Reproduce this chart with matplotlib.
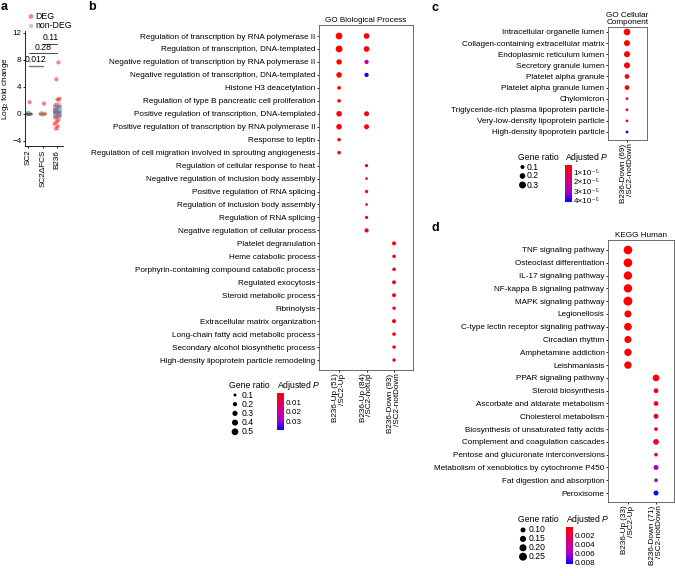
import numpy as np
import matplotlib
matplotlib.use('Agg')
import matplotlib.pyplot as plt
from matplotlib.colors import LinearSegmentedColormap, Normalize
from matplotlib.cm import ScalarMappable

plt.rcParams['font.family'] = ['Liberation Sans', 'DejaVu Sans']
plt.rcParams['font.size'] = 5.9
plt.rcParams['mathtext.fontset'] = 'custom'
plt.rcParams['mathtext.rm'] = 'Liberation Sans'
plt.rcParams['mathtext.it'] = 'Liberation Sans:italic'
plt.rcParams['axes.linewidth'] = 0.6
plt.rcParams['xtick.major.width'] = 0.6
plt.rcParams['ytick.major.width'] = 0.6
plt.rcParams['xtick.major.size'] = 1.6
plt.rcParams['ytick.major.size'] = 1.6
plt.rcParams['xtick.major.pad'] = 1
plt.rcParams['ytick.major.pad'] = 1

# ---------------- data ----------------
# panel a: log2 fold change per virus
groups_a = ['SC2', 'SC2ΔFCS', 'B236']
deg_a = [
    [1.7],
    [1.5, -0.1],
    [7.6, 5.1, 2.2, 2.1, 1.3, 1.1, 0.8, 0.5, 0.3, 0.1, -0.2, -0.4, -0.6, -0.9, -1.2, -1.5, -1.9, -2.2],
]
nondeg_a = [
    [0.1, -0.1, 0.05, -0.05, 0.0, 0.15, -0.15, 0.0],
    [0.05, -0.05, 0.1, -0.1, 0.0, 0.0],
    [1.5, 0.8, 0.2, -0.3],
]
pval_labels_a = ['0.012', '0.28', '0.11']
pval_pairs_a = [(0, 1), (0, 2), (1, 2)]

# panel b: GO biological process
terms_b = [
    'Regulation of transcription by RNA polymerase II',
    'Regulation of transcription, DNA-templated',
    'Negative regulation of transcription by RNA polymerase II',
    'Negative regulation of transcription, DNA-templated',
    'Histone H3 deacetylation',
    'Regulation of type B pancreatic cell proliferation',
    'Positive regulation of transcription, DNA-templated',
    'Positive regulation of transcription by RNA polymerase II',
    'Response to leptin',
    'Regulation of cell migration involved in sprouting angiogenesis',
    'Regulation of cellular response to heat',
    'Negative regulation of inclusion body assembly',
    'Positive regulation of RNA splicing',
    'Regulation of inclusion body assembly',
    'Regulation of RNA splicing',
    'Negative regulation of cellular process',
    'Platelet degranulation',
    'Heme catabolic process',
    'Porphyrin-containing compound catabolic process',
    'Regulated exocytosis',
    'Steroid metabolic process',
    'Fibrinolysis',
    'Extracellular matrix organization',
    'Long-chain fatty acid metabolic process',
    'Secondary alcohol biosynthetic process',
    'High-density lipoprotein particle remodeling',
]
sets_b = ['B236-Up (51)\n/SC2-Up', 'B236-Up (84)\n/SC2-notUp', 'B236-Down (93)\n/SC2-notDown']
set_idx_b = [0] * 10 + [1] * 12 + [2] * 10
term_idx_b = list(range(10)) + [0, 1, 2, 3, 6, 7, 10, 11, 12, 13, 14, 15] + list(range(16, 26))
ratio_b = [0.50, 0.50, 0.32, 0.34, 0.15, 0.14, 0.34, 0.34, 0.14, 0.14,
           0.36, 0.36, 0.20, 0.20, 0.28, 0.28, 0.12, 0.08, 0.12, 0.08, 0.12, 0.20,
           0.18, 0.14, 0.14, 0.17, 0.17, 0.13, 0.18, 0.14, 0.13, 0.13]
padj_b = [0.0006, 0.0006, 0.0008, 0.0008, 0.001, 0.001, 0.001, 0.001, 0.0012, 0.0012,
          0.001, 0.001, 0.019, 0.038, 0.002, 0.002, 0.005, 0.005, 0.006, 0.006, 0.007, 0.011,
          0.001, 0.0015, 0.0015, 0.0015, 0.0015, 0.002, 0.0015, 0.0015, 0.0015, 0.0018]

# panel c: GO cellular component
terms_c = [
    'Intracellular organelle lumen',
    'Collagen-containing extracellular matrix',
    'Endoplasmic reticulum lumen',
    'Secretory granule lumen',
    'Platelet alpha granule',
    'Platelet alpha granule lumen',
    'Chylomicron',
    'Triglyceride-rich plasma lipoprotein particle',
    'Very-low-density lipoprotein particle',
    'High-density lipoprotein particle',
]
sets_c = ['B236-Down (69)\n/SC2-notDown']
ratio_c = [0.28, 0.23, 0.23, 0.23, 0.14, 0.14, 0.05, 0.05, 0.05, 0.05]
padj_c = [2e-6, 2e-6, 2e-6, 3e-6, 3e-6, 4e-6, 7e-6, 2.0e-5, 1.8e-5, 4.1e-5]

# panel d: KEGG human
terms_d = [
    'TNF signaling pathway',
    'Osteoclast differentiation',
    'IL-17 signaling pathway',
    'NF-kappa B signaling pathway',
    'MAPK signaling pathway',
    'Legionellosis',
    'C-type lectin receptor signaling pathway',
    'Circadian rhythm',
    'Amphetamine addiction',
    'Leishmaniasis',
    'PPAR signaling pathway',
    'Steroid biosynthesis',
    'Ascorbate and aldarate metabolism',
    'Cholesterol metabolism',
    'Biosynthesis of unsaturated fatty acids',
    'Complement and coagulation cascades',
    'Pentose and glucuronate interconversions',
    'Metabolism of xenobiotics by cytochrome P450',
    'Fat digestion and absorption',
    'Peroxisome',
]
sets_d = ['B236-Up (33)\n/SC2-Up', 'B236-Down (71)\n/SC2-notDown']
set_idx_d = [0] * 10 + [1] * 10
ratio_d = [0.30, 0.30, 0.28, 0.28, 0.32, 0.20, 0.24, 0.20, 0.22, 0.22,
           0.18, 0.09, 0.09, 0.10, 0.055, 0.13, 0.055, 0.10, 0.055, 0.10]
padj_d = [0.0001] * 10 + [0.0002, 0.0005, 0.0008, 0.0015, 0.002, 0.001, 0.003, 0.0062, 0.0058, 0.0082]

# ---------------- drawing ----------------
W, H = 675, 576
fig = plt.figure(figsize=(W / 100, H / 100), dpi=100)


def px_axes(x0, y0, x1, y1, **kw):
    return fig.add_axes([x0 / W, 1 - y1 / H, (x1 - x0) / W, (y1 - y0) / H], **kw)


cmap = LinearSegmentedColormap.from_list(
    'padj', ['#FF0000', '#E3004F', '#C70094', '#A000CC', '#0000FF'])


def marker_area(r, k):
    # k: diameter in px for ratio 1 (area proportional to gene ratio)
    return (k * np.sqrt(np.asarray(r)) * 0.72) ** 2


def dotplot(ax, terms, sets, xs, ys, ratio, padj, k, vmin, vmax, xlim, ylim, title):
    ax.scatter(xs, ys, s=marker_area(ratio, k), c=padj, cmap=cmap,
               norm=Normalize(vmin, vmax), edgecolors='none', zorder=3)
    ax.set_yticks(range(len(terms)))
    ax.set_yticklabels(terms)
    ax.set_xticks(range(len(sets)))
    ax.set_xticklabels(sets, rotation=90, multialignment='right', linespacing=0.95)
    ax.set_xlim(*xlim)
    ax.set_ylim(*ylim)
    ax.set_title(title, fontsize=5.9, pad=2.5, linespacing=0.95)
    for s in ax.spines.values():
        s.set_color('#555555')


def colorbar(x0, y0, x1, y1, vmin, vmax, ticks, labels):
    cax = px_axes(x0, y0, x1, y1)
    cb = fig.colorbar(ScalarMappable(norm=Normalize(vmin, vmax), cmap=cmap.reversed()), cax=cax)
    cb.outline.set_visible(False)
    cb.set_ticks([vmin + vmax - t for t in ticks])
    cb.set_ticklabels(labels)
    cax.tick_params(length=0, pad=1, labelsize=5.9)
    return cb


# overlay for legends and panel letters (pixel coordinates)
ov = px_axes(0, 0, W, H, zorder=10)
ov.set_xlim(0, W)
ov.set_ylim(H, 0)
ov.axis('off')
ov.patch.set_alpha(0)

# ---- panel a
axa = px_axes(25, 31.4, 63, 146.1)
for i in range(len(groups_a)):
    vals = deg_a[i] + nondeg_a[i]
    n_deg = len(deg_a[i])
    offs = ((np.arange(len(vals)) * 0.618 + 0.75) % 1 - 0.5) * 0.36
    axa.scatter(i + offs[:n_deg], deg_a[i], s=9, color='#FF0000', alpha=0.5,
                edgecolors='none', zorder=2)
    axa.scatter(i + offs[n_deg:], nondeg_a[i], s=9, color='#999999', alpha=0.5,
                edgecolors='none', zorder=2)
box_colors = ['#555555', '#D2691E', '#4682B4']
bp = axa.boxplot([deg_a[i] + nondeg_a[i] for i in range(3)], positions=range(3),
                 widths=0.5, showfliers=False, patch_artist=True, whis=1.0)
for i, patch in enumerate(bp['boxes']):
    patch.set_facecolor(box_colors[i])
    patch.set_alpha(0.5)
    patch.set_edgecolor(box_colors[i])
    patch.set_linewidth(0.5)
for key in ['whiskers', 'caps']:
    for j, line in enumerate(bp[key]):
        line.set_color(box_colors[j // 2])
        line.set_linewidth(0.5)
        line.set_alpha(0.6)
for i, line in enumerate(bp['medians']):
    line.set_color(box_colors[i])
    line.set_linewidth(1.2)
bracket_y = [7.1, 8.95, 10.4]
for (lab, (g1, g2), yb) in zip(pval_labels_a, pval_pairs_a, bracket_y):
    axa.plot([g1 + 0.05, g2], [yb, yb], color='#777777' if lab == '0.012' else 'black',
             lw=1.0 if lab == '0.012' else 0.5)
    axa.text((g1 + g2) / 2 + 0.02, yb + 0.25, lab, ha='center', va='bottom', fontsize=6.2)
axa.set_xlim(-0.23, 2.41)
axa.set_ylim(-4.8, 12.2)
axa.set_yticks([-4, 0, 4, 8, 12])
axa.set_xticks(range(3))
axa.set_xticklabels(groups_a, rotation=90)
axa.set_ylabel('Log$_2$ fold change')
axa.yaxis.set_label_coords(-0.36, 0.5)
axa.spines['top'].set_visible(False)
axa.spines['right'].set_visible(False)

ov.scatter([31, 31], [16.5, 26], s=(4.7 * 0.72) ** 2, color=['#FF0000', '#999999'],
           alpha=0.5, edgecolors='none')
ov.text(35.5, 16.5, 'DEG', va='center', fontsize=6.3)
ov.text(35.5, 26, 'non-DEG', va='center', fontsize=6.3)

# ---- panel b
axb = px_axes(319, 25, 413, 370)
vmin_b, vmax_b = 0.0006, 0.039
dotplot(axb, terms_b, sets_b, set_idx_b, term_idx_b, ratio_b, padj_b, 9.5,
        vmin_b, vmax_b, (-0.73, 2.69), (25.77, -0.85), 'GO Biological Process')
colorbar(277, 393, 284, 430, vmin_b, vmax_b, [0.01, 0.02, 0.03], ['0.01', '0.02', '0.03'])
ov.text(277, 385, 'Adjusted $P$', fontsize=6.2, va='center')
ov.text(229, 385, 'Gene ratio', fontsize=6.2, va='center')
leg_b = [0.1, 0.2, 0.3, 0.4, 0.5]
for j, r in enumerate(leg_b):
    yy = 395 + j * 9.2
    ov.scatter([235], [yy], s=marker_area(r, 9.5), color='black', edgecolors='none')
    ov.text(242, yy, str(r), va='center', fontsize=6.2)

# ---- panel c
axc = px_axes(608, 27, 647, 140)
vmin_c, vmax_c = 1.6e-6, 4.2e-5
dotplot(axc, terms_c, sets_c, [0] * len(terms_c), range(len(terms_c)), ratio_c, padj_c, 12.6,
        vmin_c, vmax_c, (-0.95, 1.0), (9.72, -0.45), 'GO Cellular\nComponent')
colorbar(565, 165, 572, 202, vmin_c, vmax_c, [1e-5, 2e-5, 3e-5, 4e-5],
         ['1×10⁻⁵', '2×10⁻⁵', '3×10⁻⁵', '4×10⁻⁵'])
ov.text(565, 157, 'Adjusted $P$', fontsize=6.2, va='center')
ov.text(518, 157, 'Gene ratio', fontsize=6.2, va='center')
for j, r in enumerate([0.1, 0.2, 0.3]):
    yy = 167 + j * 9
    ov.scatter([522.5], [yy], s=marker_area(r, 12.6), color='black', edgecolors='none')
    ov.text(527, yy, str(r), va='center', fontsize=6.2)

# ---- panel d
axd = px_axes(608, 240, 674, 502)
vmin_d, vmax_d = 0.00005, 0.0084
dotplot(axd, terms_d, sets_d, set_idx_d, range(len(terms_d)), ratio_d, padj_d, 15.8,
        vmin_d, vmax_d, (-0.71, 1.64), (19.7, -0.78), 'KEGG Human')
colorbar(566, 527, 573, 564, vmin_d, vmax_d, [0.002, 0.004, 0.006, 0.008],
         ['0.002', '0.004', '0.006', '0.008'])
ov.text(566, 519, 'Adjusted $P$', fontsize=6.2, va='center')
ov.text(518, 519, 'Gene ratio', fontsize=6.2, va='center')
for j, r in enumerate([0.10, 0.15, 0.20, 0.25]):
    yy = 530 + j * 8.9
    ov.scatter([523], [yy], s=marker_area(r, 15.8), color='black', edgecolors='none')
    ov.text(529, yy, '%.2f' % r, va='center', fontsize=6.2)

# panel letters
for lab, x, y in [('a', 1, 1), ('b', 88, 1), ('c', 432, 2), ('d', 432, 222)]:
    ov.text(x, y, lab, fontsize=9, fontweight='bold', va='top', ha='left')

fig.savefig('out.png', dpi=100)
